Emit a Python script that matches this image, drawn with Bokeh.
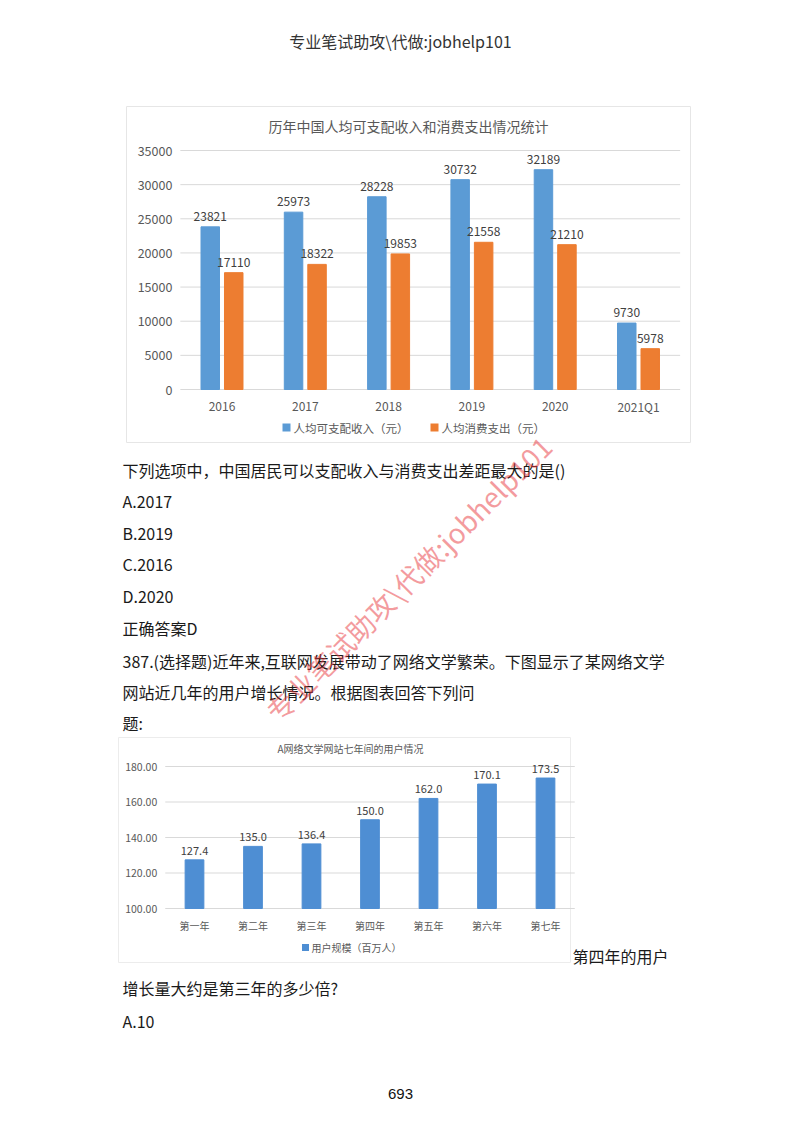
from bokeh.plotting import figure
from bokeh.models import ColumnDataSource, Range1d
from bokeh.transform import dodge
from bokeh.core.properties import value
from bokeh.embed import file_html
from bokeh.resources import INLINE
import math

FONT = "Noto Sans CJK SC"

# ---------------- data ----------------
years = ["2016", "2017", "2018", "2019", "2020", "2021Q1"]
income = [23821, 25973, 28228, 30732, 32189, 9730]
spend = [17110, 18322, 19853, 21558, 21210, 5978]
ticks1 = [0, 5000, 10000, 15000, 20000, 25000, 30000, 35000]
title1 = "历年中国人均可支配收入和消费支出情况统计"
legend1 = ["人均可支配收入（元）", "人均消费支出（元）"]

years2 = ["第一年", "第二年", "第三年", "第四年", "第五年", "第六年", "第七年"]
users = [127.4, 135.0, 136.4, 150.0, 162.0, 170.1, 173.5]
ticks2 = [100, 120, 140, 160, 180]
title2 = "A网络文学网站七年间的用户情况"
legend2 = "用户规模（百万人）"

header = "专业笔试助攻\\代做:jobhelp101"
body_lines = [
    "下列选项中，中国居民可以支配收入与消费支出差距最大的是()",
    "A.2017",
    "B.2019",
    "C.2016",
    "D.2020",
    "正确答案D",
    "387.(选择题)近年来,互联网发展带动了网络文学繁荣。下图显示了某网络文学",
    "网站近几年的用户增长情况。根据图表回答下列问",
    "题:",
]
side_text = "第四年的用户"
bottom_lines = ["增长量大约是第三年的多少倍?", "A.10"]
page_no = "693"

GRAY = "#595959"
TXT = "#1a1a1a"

# page canvas: coordinates are picture pixels (x right, y down)
X0, X1, Y0, Y1 = 0, 784, 0, 1116
pg = figure(width=X1 - X0, height=Y1 - Y0, x_range=Range1d(X0, X1), y_range=Range1d(Y1, Y0),
            min_border=0, x_axis_type=None, y_axis_type=None, outline_line_color=None,
            output_backend="svg", toolbar_location=None)
pg.grid.visible = False


def lin_range(va, pa, vb, pb, p_start, p_end):
    k = (vb - va) / (pb - pa)
    return Range1d(va + (p_start - pa) * k, va + (p_end - pa) * k)


# chart placement (layout only)
pg.extra_x_ranges = {
    "c1x": lin_range(0, 221.5, len(years) - 1, 638, X0, X1),
    "c2x": lin_range(0, 194, len(years2) - 1, 545, X0, X1),
}
pg.extra_y_ranges = {
    "c1y": lin_range(0, 389, 35000, 150, Y1, Y0),
    "c2y": lin_range(100, 908, 180, 766, Y1, Y0),
}


def txt(x, y, t, size, color=TXT, align="left", font=FONT, **kw):
    pg.text(x=x, y=y, text=t, text_font=value(font), text_font_size=size,
            text_color=color, text_align=align, text_baseline="middle", **kw)


# ---------------- header ----------------
txt([400], [40], [header], "16px", color="#333333", align="center")

# ---------------- chart 1 ----------------
pg.quad(left=[126], right=[690], top=[106], bottom=[442], fill_color=None,
        line_color="#e6e6e6", line_width=1)
src1 = ColumnDataSource(dict(idx=list(range(len(years))), year=years, income=income,
                             spend=spend, income_lbl=[str(v) for v in income],
                             spend_lbl=[str(v) for v in spend]))
g1 = ColumnDataSource(dict(t=ticks1, lbl=[str(t) for t in ticks1],
                           x0=[-0.5] * len(ticks1), x1=[len(years) - 0.5] * len(ticks1)))
c1 = dict(x_range_name="c1x", y_range_name="c1y")
pg.segment(x0="x0", x1="x1", y0="t", y1="t", source=g1, line_color="#d9d9d9",
           line_width=1, **c1)
pg.text(x="x0", y="t", text="lbl", source=g1, x_offset=-8, text_font=value(FONT),
        text_font_size="12.5px", text_color=GRAY, text_align="right",
        text_baseline="middle", **c1)
pg.text(x="idx", y=0, text="year", source=src1, y_offset=17,
        text_font=value(FONT), text_font_size="12px", text_color=GRAY,
        text_align="center", text_baseline="middle", **c1)
pg.vbar(x=dodge("idx", -0.141), top="income", width=0.222, source=src1,
        color="#5B9BD5", **c1)
pg.vbar(x=dodge("idx", 0.141), top="spend", width=0.222, source=src1,
        color="#ED7D31", **c1)
pg.text(x=dodge("idx", -0.141), y="income", text="income_lbl", source=src1,
        text_font=value(FONT), text_font_size="12px", text_color="#404040",
        text_align="center", text_baseline="bottom", y_offset=-6, **c1)
pg.text(x=dodge("idx", 0.141), y="spend", text="spend_lbl", source=src1,
        text_font=value(FONT), text_font_size="12px", text_color="#404040",
        text_align="center", text_baseline="bottom", y_offset=-6, **c1)
txt([408], [125], [title1], "14px", color=GRAY, align="center")
pg.scatter(x=[286, 434], y=[427, 427], marker="square", size=8,
           color=["#5B9BD5", "#ED7D31"], line_color=None)
txt([293, 441], [427, 427], legend1, "11.5px", color=GRAY)

# ---------------- body text ----------------
txt([122] * len(body_lines), [469, 500, 532, 563, 595, 627, 660, 691, 722], body_lines, "16px")

# ---------------- chart 2 ----------------
pg.quad(left=[118], right=[570], top=[737], bottom=[962], fill_color=None,
        line_color="#ececec", line_width=1)
src2 = ColumnDataSource(dict(idx=list(range(len(years2))), year=years2, users=users,
                             lbl=[f"{v:.1f}" for v in users]))
g2 = ColumnDataSource(dict(t=ticks2, lbl=[f"{t:.2f}" for t in ticks2],
                           x0=[-0.5] * len(ticks2), x1=[len(years2) - 0.5] * len(ticks2)))
c2 = dict(x_range_name="c2x", y_range_name="c2y")
pg.segment(x0="x0", x1="x1", y0="t", y1="t", source=g2, line_color="#d9d9d9",
           line_width=1, **c2)
pg.text(x="x0", y="t", text="lbl", source=g2, x_offset=-8, text_font=value(FONT),
        text_font_size="10.5px", text_color=GRAY, text_align="right",
        text_baseline="middle", **c2)
pg.text(x="idx", y=100, text="year", source=src2, y_offset=17,
        text_font=value(FONT), text_font_size="10px", text_color=GRAY,
        text_align="center", text_baseline="middle", **c2)
pg.vbar(x="idx", top="users", width=0.32, bottom=100, source=src2, color="#4E8ED3", **c2)
pg.text(x="idx", y="users", text="lbl", source=src2, text_font=value(FONT),
        text_font_size="11px", text_color="#404040", text_align="center",
        text_baseline="bottom", y_offset=-5, **c2)
txt([350], [748], [title2], "10px", color=GRAY, align="center")
pg.scatter(x=[305], y=[947], marker="square", size=7, color="#4E8ED3", line_color=None)
txt([311], [947], [legend2], "10px", color=GRAY)

txt([572], [955], [side_text], "16px")

# ---------------- bottom text ----------------
txt([122, 122], [987, 1020], bottom_lines, "16px")
txt([400], [1093], [page_no], "15px", color="#111111", align="center", font="Liberation Sans")

# ---------------- watermark ----------------
pg.text(x=[408], y=[578], text=[header], text_font=value(FONT), text_font_size="28px",
        text_color="#e8383d", text_alpha=0.5, angle=math.pi / 4,
        text_align="center", text_baseline="middle")

open("out.html", "w").write(file_html(pg, INLINE))
